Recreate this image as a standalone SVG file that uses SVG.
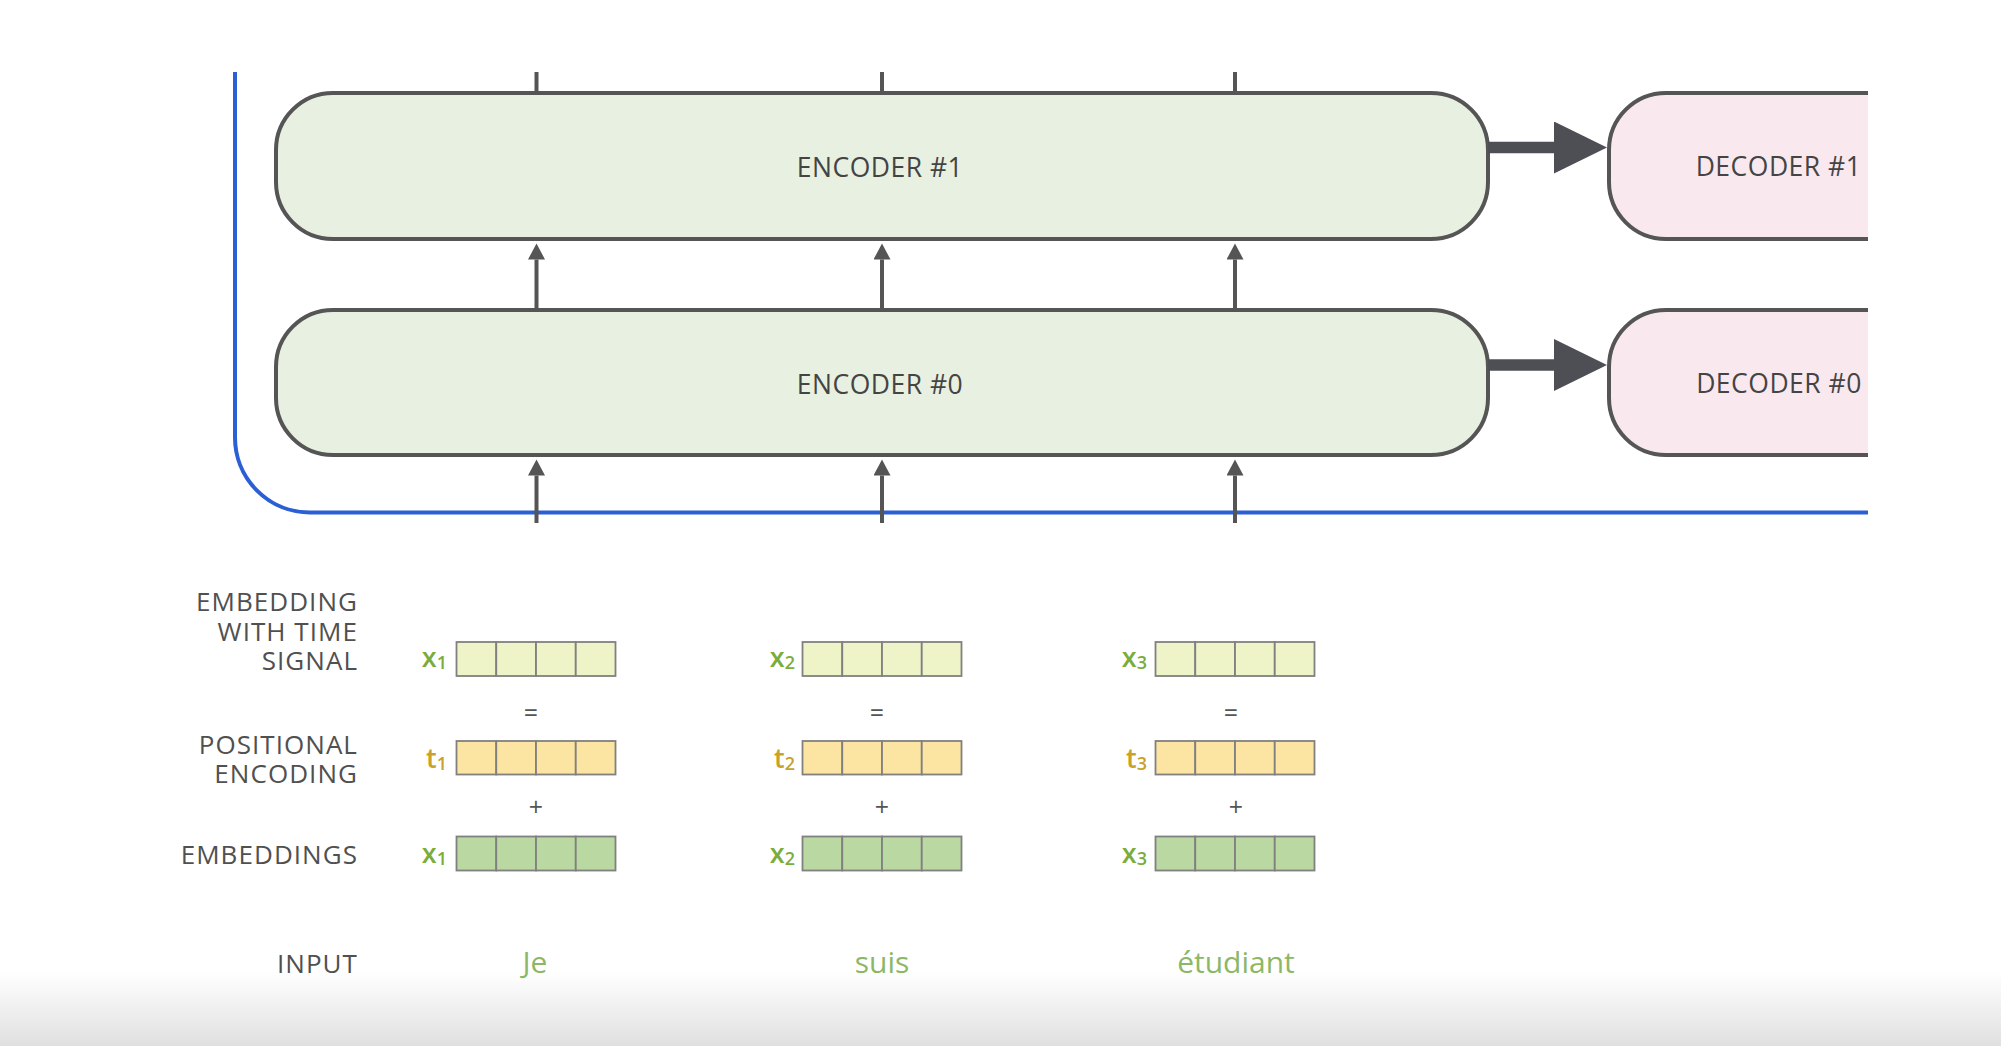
<svg xmlns="http://www.w3.org/2000/svg" width="2001" height="1046" viewBox="0 0 2001 1046">
  <defs>
    <linearGradient id="bottomFade" x1="0" y1="0" x2="0" y2="1">
      <stop offset="0" stop-color="#ffffff"/>
      <stop offset="1" stop-color="#e0e0e0"/>
    </linearGradient>
    <marker id="head" markerUnits="userSpaceOnUse" markerWidth="18" markerHeight="18" refX="0" refY="8.5" orient="auto">
      <path d="M0,0 L16,8.5 L0,17 z" fill="#555555"/>
    </marker>
    <marker id="bighead" markerUnits="userSpaceOnUse" markerWidth="54" markerHeight="53" refX="0" refY="26" orient="auto">
      <path d="M0,0 L53,26 L0,52 z" fill="#4d4f55"/>
    </marker>
    <style>
      .enc { fill: #e8f0e1; stroke: #555555; stroke-width: 4; }
      .dec { fill: #f9e9ef; stroke: #555555; stroke-width: 4; }
      .box-label { font-family: "Open Sans", "Noto Sans", sans-serif; font-size: 26.5px; font-weight: 500; fill: #444444; text-anchor: middle; letter-spacing: 0.5px; }
      .row-label { font-family: "Open Sans", "Noto Sans", sans-serif; font-size: 26px; font-weight: 500; fill: #505050; text-anchor: end; letter-spacing: 1.05px; }
      .vec-label { font-family: "Open Sans", "Noto Sans", sans-serif; font-size: 27px; font-weight: 600; text-anchor: end; }
      .xl { fill: #7aad3c; }
      .tl { fill: #c9a12c; }
      .op { font-family: "Open Sans", "Noto Sans", sans-serif; font-size: 25px; fill: #555555; text-anchor: middle; }
      .word { font-family: "Open Sans", "Noto Sans", sans-serif; font-size: 30px; fill: #8cb866; text-anchor: middle; }
      .cell { stroke: #808080; stroke-width: 1.8; }
      .c-x { fill: #eef3c8; }
      .c-t { fill: #fce4a2; }
      .c-e { fill: #b9d8a2; }
      .conn { stroke: #555555; stroke-width: 4; fill: none; }
      .thick { stroke: #4d4f55; stroke-width: 11.6; fill: none; }
    </style>
  </defs>

  <rect x="0" y="0" width="2001" height="1046" fill="#ffffff"/>
  <rect x="0" y="972" width="2001" height="74" fill="url(#bottomFade)"/>

  <!-- blue stack boundary -->
  <path d="M235,72 V437 A75,75 0 0 0 310,512.5 H1868" fill="none" stroke="#2b5fd6" stroke-width="4"/>

  <g id="encoder1">
    <rect class="enc" x="276" y="93" width="1212" height="146" rx="57" ry="57"/>
    <text class="box-label" x="880" y="177">ENCODER #1</text>
  </g>
  <g id="encoder0">
    <rect class="enc" x="276" y="310" width="1212" height="145" rx="57" ry="57"/>
    <text class="box-label" x="880" y="393.5">ENCODER #0</text>
  </g>
  <g id="decoder1">
    <path class="dec" d="M1868,93 H1666 A57,57 0 0 0 1609,150 V182 A57,57 0 0 0 1666,239 H1868"/>
    <text class="box-label" x="1778.5" y="176">DECODER #1</text>
  </g>
  <g id="decoder0">
    <path class="dec" d="M1868,310 H1666 A57,57 0 0 0 1609,367 V398 A57,57 0 0 0 1666,455 H1868"/>
    <text class="box-label" x="1779" y="393">DECODER #0</text>
  </g>

  <g id="connectors">
    <!-- stubs above encoder #1 -->
    <line class="conn" x1="536.5" y1="72" x2="536.5" y2="93"/>
    <line class="conn" x1="882" y1="72" x2="882" y2="93"/>
    <line class="conn" x1="1235" y1="72" x2="1235" y2="93"/>
    <!-- encoder #0 to encoder #1 -->
    <line class="conn" x1="536.5" y1="310" x2="536.5" y2="259.5" marker-end="url(#head)"/>
    <line class="conn" x1="882" y1="310" x2="882" y2="259.5" marker-end="url(#head)"/>
    <line class="conn" x1="1235" y1="310" x2="1235" y2="259.5" marker-end="url(#head)"/>
    <!-- inputs to encoder #0 -->
    <line class="conn" x1="536.5" y1="523" x2="536.5" y2="475.5" marker-end="url(#head)"/>
    <line class="conn" x1="882" y1="523" x2="882" y2="475.5" marker-end="url(#head)"/>
    <line class="conn" x1="1235" y1="523" x2="1235" y2="475.5" marker-end="url(#head)"/>
    <!-- encoder to decoder -->
    <line class="thick" x1="1488" y1="147.5" x2="1554" y2="147.5" marker-end="url(#bighead)"/>
    <line class="thick" x1="1488" y1="365" x2="1554" y2="365" marker-end="url(#bighead)"/>
  </g>

  <g id="row-labels">
    <text class="row-label" x="358" y="611">EMBEDDING</text>
    <text class="row-label" x="358" y="641">WITH TIME</text>
    <text class="row-label" x="358" y="670">SIGNAL</text>
    <text class="row-label" x="358" y="754">POSITIONAL</text>
    <text class="row-label" x="358" y="783">ENCODING</text>
    <text class="row-label" x="358" y="864">EMBEDDINGS</text>
    <text class="row-label" x="358" y="973">INPUT</text>
  </g>

  <!-- column 1 -->
  <g id="col1">
    <g id="x1-time">
      <rect class="cell c-x" x="456.5" y="642" width="39.75" height="34"/>
      <rect class="cell c-x" x="496.25" y="642" width="39.75" height="34"/>
      <rect class="cell c-x" x="536" y="642" width="39.75" height="34"/>
      <rect class="cell c-x" x="575.75" y="642" width="39.75" height="34"/>
      <text class="vec-label xl" x="447" y="667">x<tspan font-size="18" dy="2">1</tspan></text>
    </g>
    <text class="op" x="531" y="722">=</text>
    <g id="t1">
      <rect class="cell c-t" x="456.5" y="741" width="39.75" height="33.5"/>
      <rect class="cell c-t" x="496.25" y="741" width="39.75" height="33.5"/>
      <rect class="cell c-t" x="536" y="741" width="39.75" height="33.5"/>
      <rect class="cell c-t" x="575.75" y="741" width="39.75" height="33.5"/>
      <text class="vec-label tl" x="447" y="768">t<tspan font-size="18" dy="2">1</tspan></text>
    </g>
    <text class="op" x="536" y="816">+</text>
    <g id="x1-emb">
      <rect class="cell c-e" x="456.5" y="836.5" width="39.75" height="34"/>
      <rect class="cell c-e" x="496.25" y="836.5" width="39.75" height="34"/>
      <rect class="cell c-e" x="536" y="836.5" width="39.75" height="34"/>
      <rect class="cell c-e" x="575.75" y="836.5" width="39.75" height="34"/>
      <text class="vec-label xl" x="447" y="863">x<tspan font-size="18" dy="2">1</tspan></text>
    </g>
    <text id="word1" class="word" x="535" y="973">Je</text>
  </g>

  <!-- column 2 -->
  <g id="col2">
    <g id="x2-time">
      <rect class="cell c-x" x="802.5" y="642" width="39.75" height="34"/>
      <rect class="cell c-x" x="842.25" y="642" width="39.75" height="34"/>
      <rect class="cell c-x" x="882" y="642" width="39.75" height="34"/>
      <rect class="cell c-x" x="921.75" y="642" width="39.75" height="34"/>
      <text class="vec-label xl" x="795" y="667">x<tspan font-size="18" dy="2">2</tspan></text>
    </g>
    <text class="op" x="877" y="722">=</text>
    <g id="t2">
      <rect class="cell c-t" x="802.5" y="741" width="39.75" height="33.5"/>
      <rect class="cell c-t" x="842.25" y="741" width="39.75" height="33.5"/>
      <rect class="cell c-t" x="882" y="741" width="39.75" height="33.5"/>
      <rect class="cell c-t" x="921.75" y="741" width="39.75" height="33.5"/>
      <text class="vec-label tl" x="795" y="768">t<tspan font-size="18" dy="2">2</tspan></text>
    </g>
    <text class="op" x="882" y="816">+</text>
    <g id="x2-emb">
      <rect class="cell c-e" x="802.5" y="836.5" width="39.75" height="34"/>
      <rect class="cell c-e" x="842.25" y="836.5" width="39.75" height="34"/>
      <rect class="cell c-e" x="882" y="836.5" width="39.75" height="34"/>
      <rect class="cell c-e" x="921.75" y="836.5" width="39.75" height="34"/>
      <text class="vec-label xl" x="795" y="863">x<tspan font-size="18" dy="2">2</tspan></text>
    </g>
    <text id="word2" class="word" x="882" y="973">suis</text>
  </g>

  <!-- column 3 -->
  <g id="col3">
    <g id="x3-time">
      <rect class="cell c-x" x="1155.5" y="642" width="39.75" height="34"/>
      <rect class="cell c-x" x="1195.25" y="642" width="39.75" height="34"/>
      <rect class="cell c-x" x="1235" y="642" width="39.75" height="34"/>
      <rect class="cell c-x" x="1274.75" y="642" width="39.75" height="34"/>
      <text class="vec-label xl" x="1147" y="667">x<tspan font-size="18" dy="2">3</tspan></text>
    </g>
    <text class="op" x="1231" y="722">=</text>
    <g id="t3">
      <rect class="cell c-t" x="1155.5" y="741" width="39.75" height="33.5"/>
      <rect class="cell c-t" x="1195.25" y="741" width="39.75" height="33.5"/>
      <rect class="cell c-t" x="1235" y="741" width="39.75" height="33.5"/>
      <rect class="cell c-t" x="1274.75" y="741" width="39.75" height="33.5"/>
      <text class="vec-label tl" x="1147" y="768">t<tspan font-size="18" dy="2">3</tspan></text>
    </g>
    <text class="op" x="1236" y="816">+</text>
    <g id="x3-emb">
      <rect class="cell c-e" x="1155.5" y="836.5" width="39.75" height="34"/>
      <rect class="cell c-e" x="1195.25" y="836.5" width="39.75" height="34"/>
      <rect class="cell c-e" x="1235" y="836.5" width="39.75" height="34"/>
      <rect class="cell c-e" x="1274.75" y="836.5" width="39.75" height="34"/>
      <text class="vec-label xl" x="1147" y="863">x<tspan font-size="18" dy="2">3</tspan></text>
    </g>
    <text id="word3" class="word" x="1236" y="973">étudiant</text>
  </g>
</svg>
